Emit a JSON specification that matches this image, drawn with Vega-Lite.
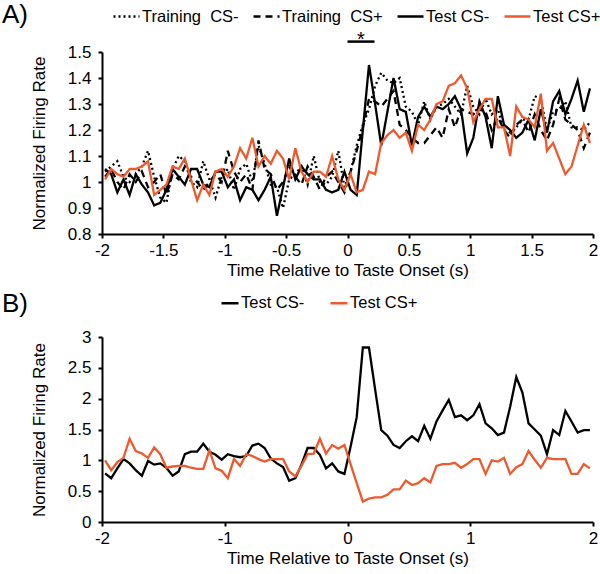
{
 "$schema": "https://vega.github.io/schema/vega-lite/v6.json",
 "padding": {"left": 2, "top": 2, "right": 5, "bottom": 5},
 "background": "white",
 "config": {
  "font": "Liberation Sans",
  "view": {"stroke": null},
  "axis": {"grid": false, "domainColor": "black", "domainWidth": 2, "tickColor": "black", "tickWidth": 2, "tickSize": 4, "labelColor": "black", "labelFontSize": 17, "labelFont": "Liberation Sans", "labelOverlap": false, "titleFont": "Liberation Sans", "titleFontSize": 17, "titleFontWeight": "normal", "titleColor": "black"},
  "axisY": {"labelPadding": 7, "titlePadding": 19},
  "axisX": {"labelPadding": 4, "titlePadding": 4},
  "legend": {"labelFontSize": 16.5, "labelFontWeight": "normal", "labelColor": "black", "labelFont": "Liberation Sans", "padding": 0},
  "title": {"fontSize": 26, "fontWeight": "normal", "font": "Liberation Sans", "anchor": "start", "frame": "group", "color": "black"},
  "concat": {"spacing": 13}
 },
 "resolve": {"scale": {"color": "independent", "strokeDash": "independent"}, "legend": {"color": "independent", "strokeDash": "independent"}},
 "datasets": {
  "sig": [{"t0": 0, "t1": 0.22, "v": 1.54, "tm": 0.11, "vm": 1.522, "label": "*"}],
  "a": [
   {"s":"Training CS-","t":-1.975,"v":1.04},{"s":"Training CS-","t":-1.925,"v":1.06},{"s":"Training CS-","t":-1.875,"v":1.08},{"s":"Training CS-","t":-1.825,"v":1.02},{"s":"Training CS-","t":-1.775,"v":1.00},{"s":"Training CS-","t":-1.725,"v":1.03},{"s":"Training CS-","t":-1.675,"v":1.06},{"s":"Training CS-","t":-1.625,"v":1.12},{"s":"Training CS-","t":-1.575,"v":1.02},{"s":"Training CS-","t":-1.525,"v":0.94},
   {"s":"Training CS-","t":-1.475,"v":0.92},{"s":"Training CS-","t":-1.425,"v":1.05},{"s":"Training CS-","t":-1.375,"v":1.10},{"s":"Training CS-","t":-1.325,"v":1.08},{"s":"Training CS-","t":-1.275,"v":1.00},{"s":"Training CS-","t":-1.225,"v":0.98},{"s":"Training CS-","t":-1.175,"v":1.08},{"s":"Training CS-","t":-1.125,"v":1.01},{"s":"Training CS-","t":-1.075,"v":0.94},{"s":"Training CS-","t":-1.025,"v":1.02},
   {"s":"Training CS-","t":-0.975,"v":1.05},{"s":"Training CS-","t":-0.925,"v":0.97},{"s":"Training CS-","t":-0.875,"v":1.05},{"s":"Training CS-","t":-0.825,"v":1.07},{"s":"Training CS-","t":-0.775,"v":1.00},{"s":"Training CS-","t":-0.725,"v":1.14},{"s":"Training CS-","t":-0.675,"v":1.07},{"s":"Training CS-","t":-0.625,"v":0.99},{"s":"Training CS-","t":-0.575,"v":0.98},{"s":"Training CS-","t":-0.525,"v":0.90},
   {"s":"Training CS-","t":-0.475,"v":1.01},{"s":"Training CS-","t":-0.425,"v":1.03},{"s":"Training CS-","t":-0.375,"v":1.06},{"s":"Training CS-","t":-0.325,"v":0.99},{"s":"Training CS-","t":-0.275,"v":1.10},{"s":"Training CS-","t":-0.225,"v":1.00},{"s":"Training CS-","t":-0.175,"v":0.99},{"s":"Training CS-","t":-0.125,"v":1.02},{"s":"Training CS-","t":-0.075,"v":1.12},{"s":"Training CS-","t":-0.025,"v":0.98},
   {"s":"Training CS-","t":0.025,"v":1.04},{"s":"Training CS-","t":0.075,"v":1.14},{"s":"Training CS-","t":0.125,"v":1.22},{"s":"Training CS-","t":0.175,"v":1.28},{"s":"Training CS-","t":0.225,"v":1.37},{"s":"Training CS-","t":0.275,"v":1.42},{"s":"Training CS-","t":0.325,"v":1.39},{"s":"Training CS-","t":0.375,"v":1.38},{"s":"Training CS-","t":0.425,"v":1.40},{"s":"Training CS-","t":0.475,"v":1.29},
   {"s":"Training CS-","t":0.525,"v":1.27},{"s":"Training CS-","t":0.575,"v":1.22},{"s":"Training CS-","t":0.625,"v":1.31},{"s":"Training CS-","t":0.675,"v":1.24},{"s":"Training CS-","t":0.725,"v":1.29},{"s":"Training CS-","t":0.775,"v":1.30},{"s":"Training CS-","t":0.825,"v":1.32},{"s":"Training CS-","t":0.875,"v":1.29},{"s":"Training CS-","t":0.925,"v":1.26},{"s":"Training CS-","t":0.975,"v":1.37},
   {"s":"Training CS-","t":1.025,"v":1.29},{"s":"Training CS-","t":1.075,"v":1.26},{"s":"Training CS-","t":1.125,"v":1.32},{"s":"Training CS-","t":1.175,"v":1.26},{"s":"Training CS-","t":1.225,"v":1.28},{"s":"Training CS-","t":1.275,"v":1.20},{"s":"Training CS-","t":1.325,"v":1.19},{"s":"Training CS-","t":1.375,"v":1.21},{"s":"Training CS-","t":1.425,"v":1.24},{"s":"Training CS-","t":1.475,"v":1.24},
   {"s":"Training CS-","t":1.525,"v":1.33},{"s":"Training CS-","t":1.575,"v":1.32},{"s":"Training CS-","t":1.625,"v":1.20},{"s":"Training CS-","t":1.675,"v":1.27},{"s":"Training CS-","t":1.725,"v":1.28},{"s":"Training CS-","t":1.775,"v":1.31},{"s":"Training CS-","t":1.825,"v":1.21},{"s":"Training CS-","t":1.875,"v":1.21},{"s":"Training CS-","t":1.925,"v":1.20},{"s":"Training CS-","t":1.975,"v":1.23},

   {"s":"Training CS+","t":-1.975,"v":1.02},{"s":"Training CS+","t":-1.925,"v":1.05},{"s":"Training CS+","t":-1.875,"v":1.00},{"s":"Training CS+","t":-1.825,"v":0.97},{"s":"Training CS+","t":-1.775,"v":1.03},{"s":"Training CS+","t":-1.725,"v":1.00},{"s":"Training CS+","t":-1.675,"v":1.04},{"s":"Training CS+","t":-1.625,"v":0.98},{"s":"Training CS+","t":-1.575,"v":1.00},{"s":"Training CS+","t":-1.525,"v":1.03},
   {"s":"Training CS+","t":-1.475,"v":0.95},{"s":"Training CS+","t":-1.425,"v":1.03},{"s":"Training CS+","t":-1.375,"v":1.01},{"s":"Training CS+","t":-1.325,"v":1.06},{"s":"Training CS+","t":-1.275,"v":1.02},{"s":"Training CS+","t":-1.225,"v":1.00},{"s":"Training CS+","t":-1.175,"v":0.97},{"s":"Training CS+","t":-1.125,"v":1.00},{"s":"Training CS+","t":-1.075,"v":1.03},{"s":"Training CS+","t":-1.025,"v":1.00},
   {"s":"Training CS+","t":-0.975,"v":1.12},{"s":"Training CS+","t":-0.925,"v":1.04},{"s":"Training CS+","t":-0.875,"v":1.00},{"s":"Training CS+","t":-0.825,"v":1.03},{"s":"Training CS+","t":-0.775,"v":0.97},{"s":"Training CS+","t":-0.725,"v":1.16},{"s":"Training CS+","t":-0.675,"v":1.05},{"s":"Training CS+","t":-0.625,"v":1.03},{"s":"Training CS+","t":-0.575,"v":0.97},{"s":"Training CS+","t":-0.525,"v":1.00},
   {"s":"Training CS+","t":-0.475,"v":1.06},{"s":"Training CS+","t":-0.425,"v":1.02},{"s":"Training CS+","t":-0.375,"v":0.99},{"s":"Training CS+","t":-0.325,"v":1.06},{"s":"Training CS+","t":-0.275,"v":1.02},{"s":"Training CS+","t":-0.225,"v":0.97},{"s":"Training CS+","t":-0.175,"v":1.02},{"s":"Training CS+","t":-0.125,"v":1.04},{"s":"Training CS+","t":-0.075,"v":1.00},{"s":"Training CS+","t":-0.025,"v":0.96},
   {"s":"Training CS+","t":0.025,"v":1.04},{"s":"Training CS+","t":0.075,"v":1.12},{"s":"Training CS+","t":0.125,"v":1.21},{"s":"Training CS+","t":0.175,"v":1.32},{"s":"Training CS+","t":0.225,"v":1.31},{"s":"Training CS+","t":0.275,"v":1.29},{"s":"Training CS+","t":0.325,"v":1.32},{"s":"Training CS+","t":0.375,"v":1.35},{"s":"Training CS+","t":0.425,"v":1.22},{"s":"Training CS+","t":0.475,"v":1.20},
   {"s":"Training CS+","t":0.525,"v":1.17},{"s":"Training CS+","t":0.575,"v":1.15},{"s":"Training CS+","t":0.625,"v":1.15},{"s":"Training CS+","t":0.675,"v":1.18},{"s":"Training CS+","t":0.725,"v":1.21},{"s":"Training CS+","t":0.775,"v":1.17},{"s":"Training CS+","t":0.825,"v":1.28},{"s":"Training CS+","t":0.875,"v":1.21},{"s":"Training CS+","t":0.925,"v":1.28},{"s":"Training CS+","t":0.975,"v":1.27},
   {"s":"Training CS+","t":1.025,"v":1.26},{"s":"Training CS+","t":1.075,"v":1.29},{"s":"Training CS+","t":1.125,"v":1.27},{"s":"Training CS+","t":1.175,"v":1.20},{"s":"Training CS+","t":1.225,"v":1.25},{"s":"Training CS+","t":1.275,"v":1.20},{"s":"Training CS+","t":1.325,"v":1.17},{"s":"Training CS+","t":1.375,"v":1.22},{"s":"Training CS+","t":1.425,"v":1.24},{"s":"Training CS+","t":1.475,"v":1.19},
   {"s":"Training CS+","t":1.525,"v":1.26},{"s":"Training CS+","t":1.575,"v":1.20},{"s":"Training CS+","t":1.625,"v":1.16},{"s":"Training CS+","t":1.675,"v":1.22},{"s":"Training CS+","t":1.725,"v":1.32},{"s":"Training CS+","t":1.775,"v":1.24},{"s":"Training CS+","t":1.825,"v":1.22},{"s":"Training CS+","t":1.875,"v":1.20},{"s":"Training CS+","t":1.925,"v":1.13},{"s":"Training CS+","t":1.975,"v":1.19},

   {"s":"Test CS-","t":-1.975,"v":1.05},{"s":"Test CS-","t":-1.925,"v":1.03},{"s":"Test CS-","t":-1.875,"v":0.96},{"s":"Test CS-","t":-1.825,"v":1.01},{"s":"Test CS-","t":-1.775,"v":0.95},{"s":"Test CS-","t":-1.725,"v":1.03},{"s":"Test CS-","t":-1.675,"v":0.99},{"s":"Test CS-","t":-1.625,"v":0.96},{"s":"Test CS-","t":-1.575,"v":0.91},{"s":"Test CS-","t":-1.525,"v":0.92},
   {"s":"Test CS-","t":-1.475,"v":0.97},{"s":"Test CS-","t":-1.425,"v":1.05},{"s":"Test CS-","t":-1.375,"v":1.02},{"s":"Test CS-","t":-1.325,"v":0.99},{"s":"Test CS-","t":-1.275,"v":1.05},{"s":"Test CS-","t":-1.225,"v":1.05},{"s":"Test CS-","t":-1.175,"v":0.99},{"s":"Test CS-","t":-1.125,"v":0.98},{"s":"Test CS-","t":-1.075,"v":1.04},{"s":"Test CS-","t":-1.025,"v":1.04},
   {"s":"Test CS-","t":-0.975,"v":0.98},{"s":"Test CS-","t":-0.925,"v":1.01},{"s":"Test CS-","t":-0.875,"v":0.93},{"s":"Test CS-","t":-0.825,"v":0.98},{"s":"Test CS-","t":-0.775,"v":0.97},{"s":"Test CS-","t":-0.725,"v":0.93},{"s":"Test CS-","t":-0.675,"v":0.97},{"s":"Test CS-","t":-0.625,"v":1.02},{"s":"Test CS-","t":-0.575,"v":0.87},{"s":"Test CS-","t":-0.525,"v":0.98},
   {"s":"Test CS-","t":-0.475,"v":1.09},{"s":"Test CS-","t":-0.425,"v":1.01},{"s":"Test CS-","t":-0.375,"v":1.06},{"s":"Test CS-","t":-0.325,"v":1.03},{"s":"Test CS-","t":-0.275,"v":1.01},{"s":"Test CS-","t":-0.225,"v":1.01},{"s":"Test CS-","t":-0.175,"v":0.97},{"s":"Test CS-","t":-0.125,"v":0.96},{"s":"Test CS-","t":-0.075,"v":0.97},{"s":"Test CS-","t":-0.025,"v":1.04},
   {"s":"Test CS-","t":0.025,"v":0.97},{"s":"Test CS-","t":0.075,"v":0.95},{"s":"Test CS-","t":0.125,"v":1.20},{"s":"Test CS-","t":0.175,"v":1.45},{"s":"Test CS-","t":0.225,"v":1.30},{"s":"Test CS-","t":0.275,"v":1.14},{"s":"Test CS-","t":0.325,"v":1.27},{"s":"Test CS-","t":0.375,"v":1.40},{"s":"Test CS-","t":0.425,"v":1.28},{"s":"Test CS-","t":0.475,"v":1.27},
   {"s":"Test CS-","t":0.525,"v":1.14},{"s":"Test CS-","t":0.575,"v":1.25},{"s":"Test CS-","t":0.625,"v":1.29},{"s":"Test CS-","t":0.675,"v":1.25},{"s":"Test CS-","t":0.725,"v":1.29},{"s":"Test CS-","t":0.775,"v":1.28},{"s":"Test CS-","t":0.825,"v":1.30},{"s":"Test CS-","t":0.875,"v":1.33},{"s":"Test CS-","t":0.925,"v":1.28},{"s":"Test CS-","t":0.975,"v":1.11},
   {"s":"Test CS-","t":1.025,"v":1.17},{"s":"Test CS-","t":1.075,"v":1.31},{"s":"Test CS-","t":1.125,"v":1.25},{"s":"Test CS-","t":1.175,"v":1.13},{"s":"Test CS-","t":1.225,"v":1.33},{"s":"Test CS-","t":1.275,"v":1.22},{"s":"Test CS-","t":1.325,"v":1.20},{"s":"Test CS-","t":1.375,"v":1.17},{"s":"Test CS-","t":1.425,"v":1.19},{"s":"Test CS-","t":1.475,"v":1.24},
   {"s":"Test CS-","t":1.525,"v":1.16},{"s":"Test CS-","t":1.575,"v":1.28},{"s":"Test CS-","t":1.625,"v":1.19},{"s":"Test CS-","t":1.675,"v":1.31},{"s":"Test CS-","t":1.725,"v":1.35},{"s":"Test CS-","t":1.775,"v":1.26},{"s":"Test CS-","t":1.825,"v":1.32},{"s":"Test CS-","t":1.875,"v":1.39},{"s":"Test CS-","t":1.925,"v":1.27},{"s":"Test CS-","t":1.975,"v":1.36},

   {"s":"Test CS+","t":-1.975,"v":1.01},{"s":"Test CS+","t":-1.925,"v":1.05},{"s":"Test CS+","t":-1.875,"v":1.03},{"s":"Test CS+","t":-1.825,"v":1.02},{"s":"Test CS+","t":-1.775,"v":1.05},{"s":"Test CS+","t":-1.725,"v":1.05},{"s":"Test CS+","t":-1.675,"v":1.06},{"s":"Test CS+","t":-1.625,"v":1.08},{"s":"Test CS+","t":-1.575,"v":0.95},{"s":"Test CS+","t":-1.525,"v":0.97},
   {"s":"Test CS+","t":-1.475,"v":0.99},{"s":"Test CS+","t":-1.425,"v":1.06},{"s":"Test CS+","t":-1.375,"v":1.05},{"s":"Test CS+","t":-1.325,"v":1.09},{"s":"Test CS+","t":-1.275,"v":1.01},{"s":"Test CS+","t":-1.225,"v":0.93},{"s":"Test CS+","t":-1.175,"v":0.99},{"s":"Test CS+","t":-1.125,"v":0.95},{"s":"Test CS+","t":-1.075,"v":1.04},{"s":"Test CS+","t":-1.025,"v":1.05},
   {"s":"Test CS+","t":-0.975,"v":1.02},{"s":"Test CS+","t":-0.925,"v":1.06},{"s":"Test CS+","t":-0.875,"v":1.13},{"s":"Test CS+","t":-0.825,"v":1.09},{"s":"Test CS+","t":-0.775,"v":1.17},{"s":"Test CS+","t":-0.725,"v":1.06},{"s":"Test CS+","t":-0.675,"v":1.10},{"s":"Test CS+","t":-0.625,"v":1.07},{"s":"Test CS+","t":-0.575,"v":1.12},{"s":"Test CS+","t":-0.525,"v":1.09},
   {"s":"Test CS+","t":-0.475,"v":1.01},{"s":"Test CS+","t":-0.425,"v":1.13},{"s":"Test CS+","t":-0.375,"v":1.04},{"s":"Test CS+","t":-0.325,"v":1.00},{"s":"Test CS+","t":-0.275,"v":1.04},{"s":"Test CS+","t":-0.225,"v":1.04},{"s":"Test CS+","t":-0.175,"v":1.02},{"s":"Test CS+","t":-0.125,"v":1.10},{"s":"Test CS+","t":-0.075,"v":1.01},{"s":"Test CS+","t":-0.025,"v":0.97},
   {"s":"Test CS+","t":0.025,"v":1.03},{"s":"Test CS+","t":0.075,"v":0.96},{"s":"Test CS+","t":0.125,"v":0.97},{"s":"Test CS+","t":0.175,"v":1.04},{"s":"Test CS+","t":0.225,"v":1.03},{"s":"Test CS+","t":0.275,"v":1.15},{"s":"Test CS+","t":0.325,"v":1.18},{"s":"Test CS+","t":0.375,"v":1.20},{"s":"Test CS+","t":0.425,"v":1.17},{"s":"Test CS+","t":0.475,"v":1.19},
   {"s":"Test CS+","t":0.525,"v":1.12},{"s":"Test CS+","t":0.575,"v":1.22},{"s":"Test CS+","t":0.625,"v":1.20},{"s":"Test CS+","t":0.675,"v":1.24},{"s":"Test CS+","t":0.725,"v":1.30},{"s":"Test CS+","t":0.775,"v":1.31},{"s":"Test CS+","t":0.825,"v":1.37},{"s":"Test CS+","t":0.875,"v":1.38},{"s":"Test CS+","t":0.925,"v":1.41},{"s":"Test CS+","t":0.975,"v":1.36},
   {"s":"Test CS+","t":1.025,"v":1.23},{"s":"Test CS+","t":1.075,"v":1.28},{"s":"Test CS+","t":1.125,"v":1.32},{"s":"Test CS+","t":1.175,"v":1.32},{"s":"Test CS+","t":1.225,"v":1.21},{"s":"Test CS+","t":1.275,"v":1.21},{"s":"Test CS+","t":1.325,"v":1.10},{"s":"Test CS+","t":1.375,"v":1.29},{"s":"Test CS+","t":1.425,"v":1.25},{"s":"Test CS+","t":1.475,"v":1.24},
   {"s":"Test CS+","t":1.525,"v":1.21},{"s":"Test CS+","t":1.575,"v":1.34},{"s":"Test CS+","t":1.625,"v":1.12},{"s":"Test CS+","t":1.675,"v":1.15},{"s":"Test CS+","t":1.725,"v":1.09},{"s":"Test CS+","t":1.775,"v":1.03},{"s":"Test CS+","t":1.825,"v":1.06},{"s":"Test CS+","t":1.875,"v":1.14},{"s":"Test CS+","t":1.925,"v":1.22},{"s":"Test CS+","t":1.975,"v":1.15}
  ],
  "b": [
   {"s":"Test CS-","t":-1.975,"v":0.79},{"s":"Test CS-","t":-1.925,"v":0.71},{"s":"Test CS-","t":-1.875,"v":0.87},{"s":"Test CS-","t":-1.825,"v":1.02},{"s":"Test CS-","t":-1.775,"v":0.95},{"s":"Test CS-","t":-1.725,"v":0.84},{"s":"Test CS-","t":-1.675,"v":0.75},{"s":"Test CS-","t":-1.625,"v":0.99},{"s":"Test CS-","t":-1.575,"v":0.93},{"s":"Test CS-","t":-1.525,"v":0.95},
   {"s":"Test CS-","t":-1.475,"v":0.88},{"s":"Test CS-","t":-1.425,"v":0.75},{"s":"Test CS-","t":-1.375,"v":0.82},{"s":"Test CS-","t":-1.325,"v":1.10},{"s":"Test CS-","t":-1.275,"v":1.14},{"s":"Test CS-","t":-1.225,"v":1.14},{"s":"Test CS-","t":-1.175,"v":1.27},{"s":"Test CS-","t":-1.125,"v":1.14},{"s":"Test CS-","t":-1.075,"v":1.09},{"s":"Test CS-","t":-1.025,"v":1.01},
   {"s":"Test CS-","t":-0.975,"v":1.10},{"s":"Test CS-","t":-0.925,"v":1.07},{"s":"Test CS-","t":-0.875,"v":1.05},{"s":"Test CS-","t":-0.825,"v":1.07},{"s":"Test CS-","t":-0.775,"v":1.24},{"s":"Test CS-","t":-0.725,"v":1.27},{"s":"Test CS-","t":-0.675,"v":1.20},{"s":"Test CS-","t":-0.625,"v":1.03},{"s":"Test CS-","t":-0.575,"v":0.95},{"s":"Test CS-","t":-0.525,"v":0.89},
   {"s":"Test CS-","t":-0.475,"v":0.67},{"s":"Test CS-","t":-0.425,"v":0.71},{"s":"Test CS-","t":-0.375,"v":0.93},{"s":"Test CS-","t":-0.325,"v":1.20},{"s":"Test CS-","t":-0.275,"v":1.20},{"s":"Test CS-","t":-0.225,"v":1.09},{"s":"Test CS-","t":-0.175,"v":0.87},{"s":"Test CS-","t":-0.125,"v":0.95},{"s":"Test CS-","t":-0.075,"v":0.82},{"s":"Test CS-","t":-0.025,"v":0.78},
   {"s":"Test CS-","t":0.025,"v":1.22},{"s":"Test CS-","t":0.075,"v":1.70},{"s":"Test CS-","t":0.125,"v":2.83},{"s":"Test CS-","t":0.175,"v":2.83},{"s":"Test CS-","t":0.225,"v":2.15},{"s":"Test CS-","t":0.275,"v":1.49},{"s":"Test CS-","t":0.325,"v":1.40},{"s":"Test CS-","t":0.375,"v":1.25},{"s":"Test CS-","t":0.425,"v":1.20},{"s":"Test CS-","t":0.475,"v":1.31},
   {"s":"Test CS-","t":0.525,"v":1.39},{"s":"Test CS-","t":0.575,"v":1.31},{"s":"Test CS-","t":0.625,"v":1.56},{"s":"Test CS-","t":0.675,"v":1.35},{"s":"Test CS-","t":0.725,"v":1.63},{"s":"Test CS-","t":0.775,"v":1.81},{"s":"Test CS-","t":0.825,"v":1.98},{"s":"Test CS-","t":0.875,"v":1.70},{"s":"Test CS-","t":0.925,"v":1.73},{"s":"Test CS-","t":0.975,"v":1.65},
   {"s":"Test CS-","t":1.025,"v":1.73},{"s":"Test CS-","t":1.075,"v":1.91},{"s":"Test CS-","t":1.125,"v":1.60},{"s":"Test CS-","t":1.175,"v":1.52},{"s":"Test CS-","t":1.225,"v":1.41},{"s":"Test CS-","t":1.275,"v":1.45},{"s":"Test CS-","t":1.325,"v":1.87},{"s":"Test CS-","t":1.375,"v":2.35},{"s":"Test CS-","t":1.425,"v":2.10},{"s":"Test CS-","t":1.475,"v":1.60},
   {"s":"Test CS-","t":1.525,"v":1.50},{"s":"Test CS-","t":1.575,"v":1.40},{"s":"Test CS-","t":1.625,"v":1.10},{"s":"Test CS-","t":1.675,"v":1.49},{"s":"Test CS-","t":1.725,"v":1.41},{"s":"Test CS-","t":1.775,"v":1.80},{"s":"Test CS-","t":1.825,"v":1.63},{"s":"Test CS-","t":1.875,"v":1.45},{"s":"Test CS-","t":1.925,"v":1.49},{"s":"Test CS-","t":1.975,"v":1.49},

   {"s":"Test CS+","t":-1.975,"v":1.00},{"s":"Test CS+","t":-1.925,"v":0.84},{"s":"Test CS+","t":-1.875,"v":0.97},{"s":"Test CS+","t":-1.825,"v":1.04},{"s":"Test CS+","t":-1.775,"v":1.35},{"s":"Test CS+","t":-1.725,"v":1.15},{"s":"Test CS+","t":-1.675,"v":1.11},{"s":"Test CS+","t":-1.625,"v":1.04},{"s":"Test CS+","t":-1.575,"v":1.21},{"s":"Test CS+","t":-1.525,"v":1.10},
   {"s":"Test CS+","t":-1.475,"v":0.88},{"s":"Test CS+","t":-1.425,"v":0.90},{"s":"Test CS+","t":-1.375,"v":0.91},{"s":"Test CS+","t":-1.325,"v":0.91},{"s":"Test CS+","t":-1.275,"v":0.88},{"s":"Test CS+","t":-1.225,"v":0.86},{"s":"Test CS+","t":-1.175,"v":0.86},{"s":"Test CS+","t":-1.125,"v":1.16},{"s":"Test CS+","t":-1.075,"v":0.87},{"s":"Test CS+","t":-1.025,"v":0.83},
   {"s":"Test CS+","t":-0.975,"v":0.71},{"s":"Test CS+","t":-0.925,"v":1.02},{"s":"Test CS+","t":-0.875,"v":0.91},{"s":"Test CS+","t":-0.825,"v":1.10},{"s":"Test CS+","t":-0.775,"v":1.07},{"s":"Test CS+","t":-0.725,"v":1.02},{"s":"Test CS+","t":-0.675,"v":0.98},{"s":"Test CS+","t":-0.625,"v":1.02},{"s":"Test CS+","t":-0.575,"v":1.02},{"s":"Test CS+","t":-0.525,"v":1.02},
   {"s":"Test CS+","t":-0.475,"v":0.82},{"s":"Test CS+","t":-0.425,"v":0.74},{"s":"Test CS+","t":-0.375,"v":0.91},{"s":"Test CS+","t":-0.325,"v":1.10},{"s":"Test CS+","t":-0.275,"v":1.11},{"s":"Test CS+","t":-0.225,"v":1.35},{"s":"Test CS+","t":-0.175,"v":1.11},{"s":"Test CS+","t":-0.125,"v":1.25},{"s":"Test CS+","t":-0.075,"v":1.19},{"s":"Test CS+","t":-0.025,"v":1.25},
   {"s":"Test CS+","t":0.025,"v":0.94},{"s":"Test CS+","t":0.075,"v":0.63},{"s":"Test CS+","t":0.125,"v":0.33},{"s":"Test CS+","t":0.175,"v":0.38},{"s":"Test CS+","t":0.225,"v":0.40},{"s":"Test CS+","t":0.275,"v":0.40},{"s":"Test CS+","t":0.325,"v":0.44},{"s":"Test CS+","t":0.375,"v":0.53},{"s":"Test CS+","t":0.425,"v":0.53},{"s":"Test CS+","t":0.475,"v":0.67},
   {"s":"Test CS+","t":0.525,"v":0.60},{"s":"Test CS+","t":0.575,"v":0.63},{"s":"Test CS+","t":0.625,"v":0.71},{"s":"Test CS+","t":0.675,"v":0.64},{"s":"Test CS+","t":0.725,"v":0.91},{"s":"Test CS+","t":0.775,"v":0.94},{"s":"Test CS+","t":0.825,"v":0.94},{"s":"Test CS+","t":0.875,"v":0.96},{"s":"Test CS+","t":0.925,"v":0.88},{"s":"Test CS+","t":0.975,"v":0.94},
   {"s":"Test CS+","t":1.025,"v":1.02},{"s":"Test CS+","t":1.075,"v":1.02},{"s":"Test CS+","t":1.125,"v":0.78},{"s":"Test CS+","t":1.175,"v":1.00},{"s":"Test CS+","t":1.225,"v":0.98},{"s":"Test CS+","t":1.275,"v":1.04},{"s":"Test CS+","t":1.325,"v":0.78},{"s":"Test CS+","t":1.375,"v":0.89},{"s":"Test CS+","t":1.425,"v":0.94},{"s":"Test CS+","t":1.475,"v":1.15},
   {"s":"Test CS+","t":1.525,"v":1.01},{"s":"Test CS+","t":1.575,"v":0.88},{"s":"Test CS+","t":1.625,"v":1.04},{"s":"Test CS+","t":1.675,"v":1.02},{"s":"Test CS+","t":1.725,"v":1.02},{"s":"Test CS+","t":1.775,"v":1.02},{"s":"Test CS+","t":1.825,"v":0.78},{"s":"Test CS+","t":1.875,"v":0.78},{"s":"Test CS+","t":1.925,"v":0.94},{"s":"Test CS+","t":1.975,"v":0.87}
  ]
 },
 "vconcat": [
  {
   "width": 491,
   "height": 182,
   "title": {"text": "A)", "dx": -100, "dy": 30},
   "layer": [
    {
     "data": {"name": "a"},
     "mark": {"type": "line", "strokeWidth": 2.3},
     "encoding": {
      "x": {"field": "t", "type": "quantitative", "scale": {"domain": [-2, 2], "nice": false, "zero": false}, "axis": {"title": "Time Relative to Taste Onset (s)", "values": [-2, -1.5, -1, -0.5, 0, 0.5, 1, 1.5, 2], "labelExpr": "'' + datum.value", "labelFlush": false, "labelOverlap": false}},
      "y": {"field": "v", "type": "quantitative", "scale": {"domain": [0.8, 1.5], "nice": false, "zero": false}, "axis": {"title": "Normalized Firing Rate", "values": [0.8, 0.9, 1, 1.1, 1.2, 1.3, 1.4, 1.5], "labelExpr": "'' + datum.value", "labelOverlap": false}},
      "color": {"field": "s", "type": "nominal", "scale": {"domain": ["Training CS-", "Training CS+", "Test CS-", "Test CS+"], "range": ["black", "black", "black", "#ec5a2d"]}, "legend": {"title": null, "orient": "none", "legendX": 10, "legendY": -50, "direction": "horizontal", "symbolType": "stroke", "symbolSize": 676, "symbolStrokeWidth": 2.5, "labelOffset": 1, "columnPadding": 9, "labelExpr": "replace(datum.label, 'Training ', 'Training\u00a0 ')"}},
      "strokeDash": {"field": "s", "type": "nominal", "scale": {"domain": ["Training CS-", "Training CS+", "Test CS-", "Test CS+"], "range": [[2, 3], [7, 5], [1, 0], [1, 0]]}, "legend": {"title": null, "orient": "none", "legendX": 10, "legendY": -50, "direction": "horizontal", "symbolType": "stroke", "symbolSize": 676, "symbolStrokeWidth": 2.5, "labelOffset": 1, "columnPadding": 9, "labelExpr": "replace(datum.label, 'Training ', 'Training\u00a0 ')"}},
      "order": {"field": "t", "type": "quantitative"}
     }
    },
    {"mark": {"type": "rule", "color": "black", "strokeWidth": 1, "strokeDash": [1.5, 1.5]}, "encoding": {"y": {"datum": 1, "type": "quantitative", "axis": {"title": "Normalized Firing Rate", "values": [0.8, 0.9, 1, 1.1, 1.2, 1.3, 1.4, 1.5], "labelExpr": "'' + datum.value", "labelOverlap": false}}}},
    {"mark": {"type": "rule", "color": "#555555", "strokeWidth": 1, "strokeDash": [1.5, 1.5]}, "encoding": {"x": {"datum": 0, "type": "quantitative", "axis": {"title": "Time Relative to Taste Onset (s)", "values": [-2, -1.5, -1, -0.5, 0, 0.5, 1, 1.5, 2], "labelExpr": "'' + datum.value", "labelFlush": false, "labelOverlap": false}}}},
    {"data": {"name": "sig"}, "mark": {"type": "rule", "color": "black", "strokeWidth": 2.5, "clip": false}, "encoding": {
      "x": {"field": "t0", "type": "quantitative", "axis": {"title": "Time Relative to Taste Onset (s)", "values": [-2, -1.5, -1, -0.5, 0, 0.5, 1, 1.5, 2], "labelExpr": "'' + datum.value", "labelFlush": false, "labelOverlap": false}},
      "x2": {"field": "t1"},
      "y": {"field": "v", "type": "quantitative", "axis": {"title": "Normalized Firing Rate", "values": [0.8, 0.9, 1, 1.1, 1.2, 1.3, 1.4, 1.5], "labelExpr": "'' + datum.value", "labelOverlap": false}}}},
    {"data": {"name": "sig"}, "mark": {"type": "text", "fontSize": 20, "baseline": "alphabetic", "align": "center", "color": "black", "clip": false}, "encoding": {
      "x": {"field": "tm", "type": "quantitative", "axis": {"title": "Time Relative to Taste Onset (s)", "values": [-2, -1.5, -1, -0.5, 0, 0.5, 1, 1.5, 2], "labelExpr": "'' + datum.value", "labelFlush": false, "labelOverlap": false}},
      "y": {"field": "vm", "type": "quantitative", "axis": {"title": "Normalized Firing Rate", "values": [0.8, 0.9, 1, 1.1, 1.2, 1.3, 1.4, 1.5], "labelExpr": "'' + datum.value", "labelOverlap": false}},
      "text": {"field": "label"}}}
   ]
  },
  {
   "width": 491,
   "height": 185,
   "title": {"text": "B)", "dx": -100, "dy": 28},
   "layer": [
    {
     "data": {"name": "b"},
     "mark": {"type": "line", "strokeWidth": 2.3},
     "encoding": {
      "x": {"field": "t", "type": "quantitative", "scale": {"domain": [-2, 2], "nice": false, "zero": false}, "axis": {"title": "Time Relative to Taste Onset (s)", "values": [-2, -1, 0, 1, 2], "labelExpr": "'' + datum.value", "labelFlush": false, "labelOverlap": false}},
      "y": {"field": "v", "type": "quantitative", "scale": {"domain": [0, 3], "nice": false, "zero": false}, "axis": {"title": "Normalized Firing Rate", "values": [0, 0.5, 1, 1.5, 2, 2.5, 3], "labelExpr": "'' + datum.value", "labelOverlap": false}},
      "color": {"field": "s", "type": "nominal", "scale": {"domain": ["Test CS-", "Test CS+"], "range": ["black", "#ec5a2d"]}, "legend": {"title": null, "orient": "none", "legendX": 118, "legendY": -44, "direction": "horizontal", "symbolType": "stroke", "symbolSize": 289, "symbolStrokeWidth": 2.5, "labelOffset": 1, "columnPadding": 20}},
      "order": {"field": "t", "type": "quantitative"}
     }
    },
    {"mark": {"type": "rule", "color": "black", "strokeWidth": 1, "strokeDash": [1.5, 1.5]}, "encoding": {"y": {"datum": 1, "type": "quantitative", "axis": {"title": "Normalized Firing Rate", "values": [0, 0.5, 1, 1.5, 2, 2.5, 3], "labelExpr": "'' + datum.value", "labelOverlap": false}}}},
    {"mark": {"type": "rule", "color": "#555555", "strokeWidth": 1, "strokeDash": [1.5, 1.5]}, "encoding": {"x": {"datum": 0, "type": "quantitative", "axis": {"title": "Time Relative to Taste Onset (s)", "values": [-2, -1, 0, 1, 2], "labelExpr": "'' + datum.value", "labelFlush": false, "labelOverlap": false}}}}
   ]
  }
 ]
}
